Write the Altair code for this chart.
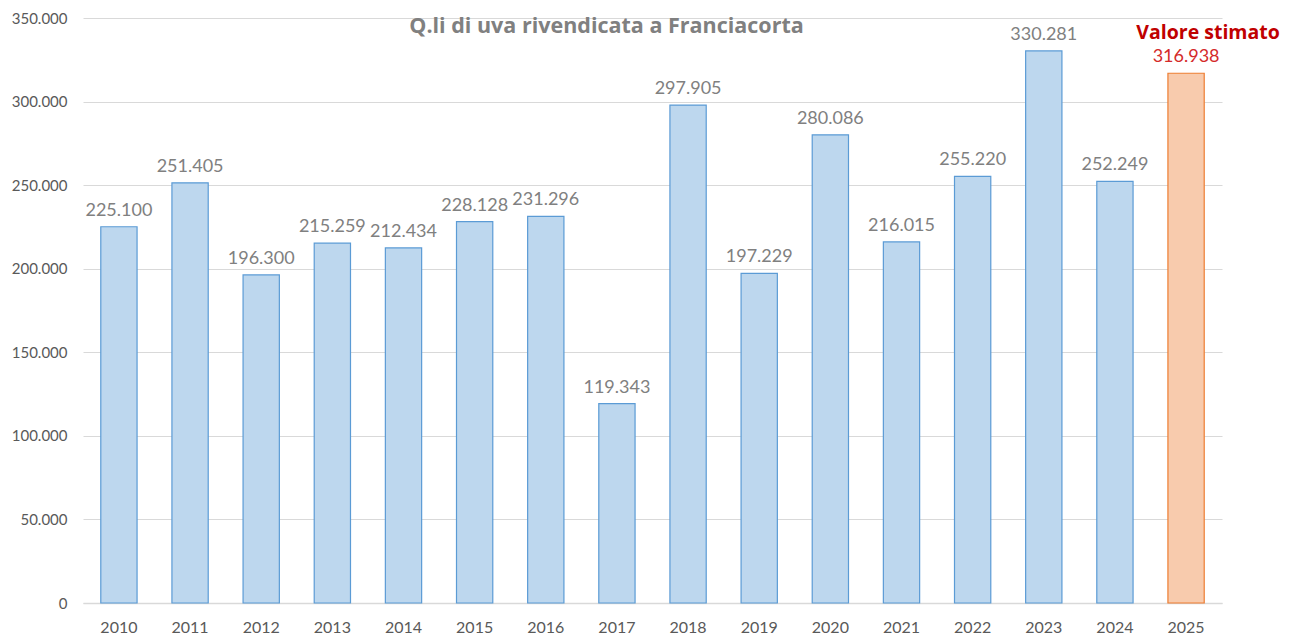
import altair as alt
import pandas as pd

years = ["2010", "2011", "2012", "2013", "2014", "2015", "2016", "2017",
         "2018", "2019", "2020", "2021", "2022", "2023", "2024", "2025"]
values = [225100, 251405, 196300, 215259, 212434, 228128, 231296, 119343,
          297905, 197229, 280086, 216015, 255220, 330281, 252249, 316938]
kinds = ["actual"] * 15 + ["estimate"]
note_text = "Valore stimato"

df = pd.DataFrame({
    "year": years,
    "value": values,
    "kind": kinds,
    "label": [f"{v:,}".replace(",", ".") for v in values],
})

FONT = "Lato"
BOLD_FONT = "Open Sans"

x = alt.X("year:N", sort=years,
          scale=alt.Scale(paddingInner=0.49, paddingOuter=0.25),
          axis=alt.Axis(title=None, labelAngle=0, labelFont=FONT, labelFontSize=16,
                        labelColor="#595959", labelPadding=16, ticks=False,
                        domainColor="#d9d9d9", domainWidth=1.5))
y = alt.Y("value:Q", scale=alt.Scale(domain=[0, 350000], nice=False),
          axis=alt.Axis(title=None, values=list(range(0, 350001, 50000)),
                        labelExpr="replace(format(datum.value, ','), ',', '.')",
                        labelFont=FONT, labelFontSize=15, labelColor="#595959",
                        labelPadding=16, ticks=False, domain=False,
                        gridColor="#d9d9d9", gridWidth=1))

base = alt.Chart(df)

bars = base.mark_bar(strokeWidth=1.2).encode(
    x=x, y=y,
    fill=alt.Fill("kind:N", scale=alt.Scale(domain=["actual", "estimate"],
                                            range=["#bdd7ee", "#f8cbad"]), legend=None),
    stroke=alt.Stroke("kind:N", scale=alt.Scale(domain=["actual", "estimate"],
                                                range=["#5b9bd5", "#ed7d31"]), legend=None),
)

labels = base.mark_text(font=FONT, fontSize=18, baseline="bottom", dy=-7).encode(
    x=alt.X("year:N", sort=years), y="value:Q", text="label:N",
    color=alt.Color("kind:N", scale=alt.Scale(domain=["actual", "estimate"],
                                              range=["#808080", "#d42a2a"]), legend=None),
)

note = base.transform_filter(alt.datum.kind == "estimate").transform_calculate(
    note=f"'{note_text}'"
).mark_text(font=BOLD_FONT, fontSize=19.5, fontWeight="bold", color="#c00000",
            baseline="bottom", dy=-30, dx=22).encode(
    x=alt.X("year:N", sort=years), y="value:Q", text="note:N",
)

chart = alt.layer(bars, labels, note).properties(
    width=1139, height=585,
    title=alt.TitleParams("Q.li di uva rivendicata a Franciacorta", font=BOLD_FONT,
                          fontSize=21.5, fontWeight="bold", color="#808080",
                          anchor="middle", dy=30, dx=-46),
    autosize=alt.AutoSizeParams(type="none"),
    padding={"left": 75, "top": 10, "right": 60, "bottom": 36},
).configure_view(stroke=None)

chart.save("out.html", embed_options={"renderer": "svg", "actions": False})
